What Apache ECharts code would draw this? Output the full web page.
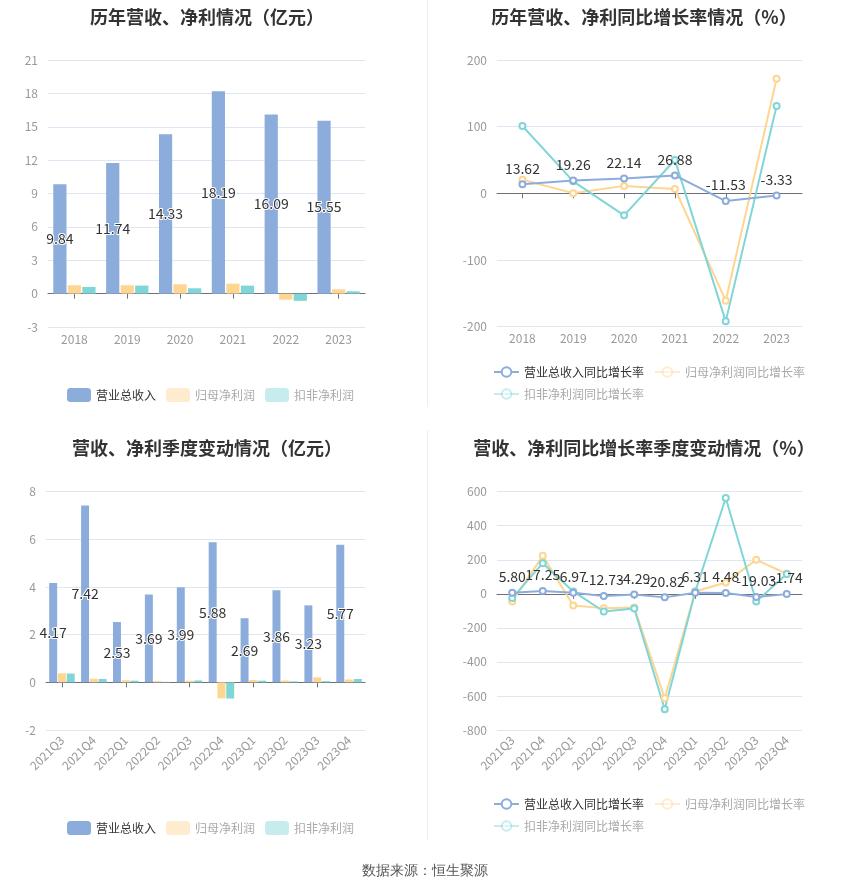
<!DOCTYPE html>
<html>
<head>
<meta charset="utf-8">
<script src="https://cdn.jsdelivr.net/npm/echarts@6/dist/echarts.min.js"></script>
<style>
html,body{margin:0;padding:0;background:#fff;}
#main{width:850px;height:891px;}
</style>
</head>
<body>
<div id="main"></div>
<script>
// ---- data ----
const years = ['2018', '2019', '2020', '2021', '2022', '2023'];
const revenue = [9.84, 11.74, 14.33, 18.19, 16.09, 15.55];
const netProfit = [0.75, 0.75, 0.84, 0.90, -0.54, 0.39];
const deductedProfit = [0.60, 0.72, 0.48, 0.72, -0.65, 0.21];

const revenueYoY = [13.62, 19.26, 22.14, 26.88, -11.53, -3.33];
const netProfitYoY = [20.5, 0.3, 11.2, 6.5, -161, 172];
const deductedYoY = [101, 18, -33, 50, -192, 131];

const quarters = ['2021Q3', '2021Q4', '2022Q1', '2022Q2', '2022Q3', '2022Q4', '2023Q1', '2023Q2', '2023Q3', '2023Q4'];
const qRevenue = [4.17, 7.42, 2.53, 3.69, 3.99, 5.88, 2.69, 3.86, 3.23, 5.77];
const qNetProfit = [0.38, 0.15, 0.09, 0.05, 0.07, -0.67, 0.10, 0.08, 0.21, 0.12];
const qDeducted = [0.37, 0.14, 0.07, 0.02, 0.08, -0.68, 0.07, 0.04, 0.05, 0.14];

const qRevenueYoY = [5.80, 17.25, 6.97, -12.73, -4.29, -20.82, 6.31, 4.48, -19.03, -1.74];
const qNetProfitYoY = [-45, 223, -69, -84, -80, -614, 14, 67, 200, 118];
const qDeductedYoY = [-25, 180, 14, -104, -86, -678, 14, 563, -45, 116];

const barNames = ['营业总收入', '归母净利润', '扣非净利润'];
const lineNames = ['营业总收入同比增长率', '归母净利润同比增长率', '扣非净利润同比增长率'];

// ---- styles ----
const C_BLUE = '#8caddb';
const C_ORANGE = '#ffd592';
const C_TEAL = '#80d5d7';
const colors = [C_BLUE, C_ORANGE, C_TEAL];

const grids = [
  {left: 48, top: 60, width: 317, height: 267},
  {left: 497, top: 60, width: 305, height: 266.7},
  {left: 46, top: 491.7, width: 319, height: 238.3},
  {left: 497, top: 491.7, width: 305, height: 238.3}
];
const yCfg = [
  {min: -3, max: 21, interval: 3},
  {min: -200, max: 200, interval: 100},
  {min: -2, max: 8, interval: 2},
  {min: -800, max: 600, interval: 200}
];
const cats = [years, years, quarters, quarters];

const xAxis = [];
const yAxis = [];
for (let i = 0; i < 4; i++) {
  xAxis.push({
    type: 'category', gridIndex: i, data: cats[i], position: 'bottom',
    axisLine: {show: true, onZero: true, lineStyle: {color: '#6e7079'}},
    axisTick: {show: true, alignWithLabel: true, length: 5, lineStyle: {color: '#6e7079'}},
    axisLabel: {show: false}, splitLine: {show: false}
  });
  xAxis.push({
    type: 'category', gridIndex: i, data: cats[i], position: 'bottom',
    axisLine: {show: false, onZero: false}, axisTick: {show: false},
    axisLabel: {
      show: true, color: '#999', fontSize: 12,
      margin: i >= 2 ? 8 : 6, rotate: i >= 2 ? 45 : 0, interval: 0
    },
    splitLine: {show: false}
  });
  yAxis.push({
    type: 'value', gridIndex: i, min: yCfg[i].min, max: yCfg[i].max, interval: yCfg[i].interval,
    axisLine: {show: false}, axisTick: {show: false},
    axisLabel: {color: '#999', fontSize: 12, margin: 10},
    splitLine: {lineStyle: {color: '#e0e6f1'}}
  });
}

const fmt2 = p => Number(p.value).toFixed(2);
const barLabel = {
  show: true, position: 'inside', color: '#333', fontSize: 14,
  textBorderColor: '#fff', textBorderWidth: 2, formatter: fmt2
};
const lineLabel = {
  show: true, position: 'top', color: '#333', fontSize: 14, distance: 5, formatter: fmt2
};

function barSeries(g, arrs) {
  return arrs.map((d, k) => ({
    name: barNames[k], type: 'bar', xAxisIndex: g * 2, yAxisIndex: g, data: d,
    barGap: '10%', barCategoryGap: '20%',
    itemStyle: {color: colors[k]},
    label: k === 0 ? barLabel : {show: false}
  }));
}
function lineSeries(g, arrs) {
  return arrs.map((d, k) => ({
    name: lineNames[k], type: 'line', xAxisIndex: g * 2, yAxisIndex: g, data: d,
    symbol: 'emptyCircle', symbolSize: 6,
    lineStyle: {width: 2, color: colors[k]},
    itemStyle: {color: colors[k]},
    label: k === 0 ? lineLabel : {show: false},
    z: k === 0 ? 5 : 2
  }));
}

const series = [].concat(
  barSeries(0, [revenue, netProfit, deductedProfit]),
  lineSeries(1, [revenueYoY, netProfitYoY, deductedYoY]),
  barSeries(2, [qRevenue, qNetProfit, qDeducted]),
  lineSeries(3, [qRevenueYoY, qNetProfitYoY, qDeductedYoY])
);

function barLegendData() {
  return barNames.map((n, k) => ({
    name: n,
    itemStyle: {opacity: k === 0 ? 1 : 0.45},
    textStyle: {color: k === 0 ? '#333' : '#aaa'}
  }));
}
function lineLegendData() {
  return lineNames.map((n, k) => ({
    name: n,
    itemStyle: {opacity: k === 0 ? 1 : 0.45},
    lineStyle: {opacity: k === 0 ? 1 : 0.45},
    textStyle: {color: k === 0 ? '#333' : '#aaa'}
  }));
}

const titleStyle = {fontSize: 18, fontWeight: 'bold', color: '#333'};

const option = {
  animation: false,
  textStyle: {fontFamily: '"Noto Sans CJK SC", "Noto Sans", sans-serif'},
  title: [
    {text: '历年营收、净利情况（亿元）', left: 202, top: 3, textAlign: 'center', textStyle: titleStyle},
    {text: '历年营收、净利同比增长率情况（%）', left: 639, top: 3, textAlign: 'center', textStyle: titleStyle},
    {text: '营收、净利季度变动情况（亿元）', left: 202, top: 434, textAlign: 'center', textStyle: titleStyle},
    {text: '营收、净利同比增长率季度变动情况（%）', left: 639, top: 434, textAlign: 'center', textStyle: titleStyle}
  ],
  legend: [
    {left: 62, top: 383, itemWidth: 24, itemHeight: 14, itemGap: 10, icon: 'roundRect',
     textStyle: {fontSize: 12}, data: barLegendData()},
    {left: 488, top: 361, width: 330, itemWidth: 25, itemHeight: 12, itemGap: 10,
     textStyle: {fontSize: 12}, data: lineLegendData()},
    {left: 62, top: 816, itemWidth: 24, itemHeight: 14, itemGap: 10, icon: 'roundRect',
     textStyle: {fontSize: 12}, data: barLegendData()},
    {left: 488, top: 793, width: 330, itemWidth: 25, itemHeight: 12, itemGap: 10,
     textStyle: {fontSize: 12}, data: lineLegendData()}
  ],
  grid: grids,
  xAxis: xAxis,
  yAxis: yAxis,
  series: series,
  graphic: [
    {type: 'line', shape: {x1: 427.5, y1: 0, x2: 427.5, y2: 407}, style: {stroke: '#eeeeee', lineWidth: 1}},
    {type: 'line', shape: {x1: 427.5, y1: 430, x2: 427.5, y2: 840}, style: {stroke: '#eeeeee', lineWidth: 1}},
    {type: 'text', x: 425, y: 871, style: {text: '数据来源：恒生聚源', fill: '#555', fontSize: 14,
      align: 'center', verticalAlign: 'middle', font: '14px "Noto Sans CJK SC", sans-serif'}}
  ]
};

const chart = echarts.init(document.getElementById('main'), null, {renderer: 'canvas'});
chart.setOption(option);
</script>
</body>
</html>
